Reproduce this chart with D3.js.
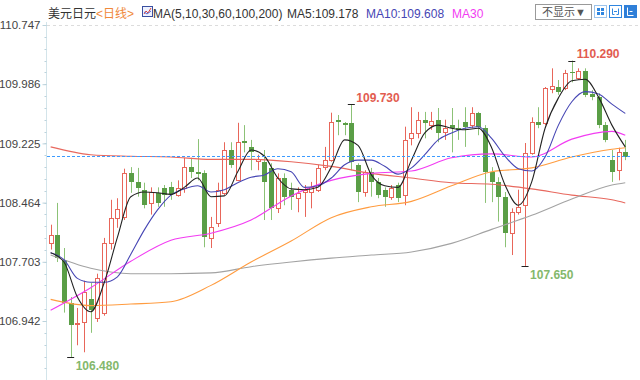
<!DOCTYPE html>
<html><head><meta charset="utf-8">
<script src="https://cdn.jsdelivr.net/npm/d3@7"></script>
<style>
html,body{margin:0;padding:0;background:#fff;}
svg{display:block;}
</style></head><body>
<svg id="c" width="640" height="380"></svg>
<script>
// ---- candle data (index 0..86) ----
const opens  = [107.95,108.05,107.73,107.17,106.90,106.93,107.22,106.98,107.05,107.95,108.27,108.28,108.84,108.73,108.63,108.46,108.59,108.65,108.66,108.56,108.65,108.92,108.86,108.84,108.01,108.20,108.59,109.14,108.76,109.26,109.18,109.00,108.99,108.91,108.39,108.78,108.63,108.52,108.60,108.60,108.63,108.92,109.01,109.53,109.49,109.49,108.95,108.60,108.86,108.73,108.63,108.54,108.69,108.56,109.29,109.36,109.53,109.46,109.53,109.37,109.46,109.42,109.50,109.46,109.62,109.42,108.86,108.73,108.54,108.07,108.34,108.43,109.10,109.50,109.49,109.92,109.95,109.94,110.14,110.07,110.16,109.86,109.82,109.46,109.01,108.88,109.11];
const highs  = [108.18,108.46,107.88,107.25,107.11,107.46,107.43,107.55,108.01,108.50,108.52,108.90,108.92,108.91,108.72,108.66,108.66,108.69,108.73,108.75,109.04,109.04,109.28,108.88,108.28,108.72,109.24,109.24,109.49,109.46,109.27,109.08,109.14,108.97,108.84,108.84,108.72,108.66,108.69,108.73,108.95,109.18,109.62,109.59,109.50,109.73,108.97,108.88,108.91,108.78,108.66,108.69,108.72,109.44,109.69,109.63,109.63,109.63,109.68,109.53,109.68,109.53,109.69,109.69,109.63,109.46,108.92,108.79,108.60,108.39,108.63,109.23,109.56,109.69,109.95,110.19,110.04,110.17,110.29,110.19,110.19,109.91,109.87,109.50,109.14,109.17,109.27];
const lows   = [107.86,107.70,107.05,106.48,106.63,106.54,106.79,106.93,107.01,107.86,108.14,108.24,108.59,108.54,108.39,108.31,108.41,108.41,108.50,108.54,108.59,108.78,108.75,107.89,107.88,108.15,108.56,108.91,108.74,109.11,108.88,108.88,108.24,108.24,108.33,108.43,108.37,108.34,108.28,108.39,108.60,108.88,108.99,109.33,109.33,108.88,108.47,108.54,108.54,108.52,108.41,108.50,108.47,108.43,109.20,109.29,109.29,109.40,109.24,109.27,109.11,109.27,109.18,109.42,109.33,108.46,108.47,108.22,107.89,107.79,108.31,107.65,109.08,109.42,109.46,109.87,109.85,109.91,110.01,110.04,109.82,109.78,109.42,109.24,108.73,108.75,109.01];
const closes = [108.05,107.75,107.17,106.89,106.92,107.32,107.08,107.50,107.95,108.27,108.38,108.84,108.73,108.65,108.43,108.60,108.46,108.56,108.57,108.65,108.92,108.86,108.83,108.02,108.15,108.63,109.14,108.95,109.24,109.23,109.11,109.02,108.73,108.39,108.78,108.54,108.54,108.59,108.63,108.66,108.91,109.01,109.50,109.50,109.46,108.99,108.60,108.86,108.73,108.56,108.54,108.65,108.52,109.27,109.36,109.53,109.49,109.51,109.36,109.42,109.42,109.40,109.44,109.62,109.44,108.86,108.73,108.54,108.07,108.34,108.41,109.10,109.50,109.46,109.94,109.96,109.89,110.13,110.13,110.16,109.85,109.82,109.46,109.27,108.86,109.11,109.05];

// ---- moving averages ----
const shortIdx = d3.range(0, 87, 2);           // candle index of each MA5 / MA10 reading
const ma5  = [107.82,107.70,107.25,107.06,107.43,108.02,108.54,108.60,108.59,108.57,108.66,108.78,108.54,108.55,108.86,109.14,109.06,108.78,108.64,108.63,108.66,108.92,109.27,109.20,108.82,108.68,108.66,109.01,109.36,109.46,109.42,109.40,109.42,109.17,108.69,108.43,108.73,109.42,109.81,110.03,110.05,109.82,109.46,109.18];
const ma10 = [107.82,107.73,107.49,107.44,107.44,107.51,107.80,108.11,108.37,108.56,108.64,108.68,108.60,108.63,108.72,108.79,108.82,108.90,108.86,108.66,108.68,108.78,108.95,109.01,109.01,108.93,108.83,108.91,109.08,109.27,109.36,109.42,109.44,109.29,109.06,108.90,108.87,109.05,109.46,109.76,109.89,109.86,109.73,109.61];
const longIdx = [0,6,12,18,24,30,36,42,48,54,60,66,72,78,84,86];
const ma30  = [107.08,107.37,107.71,107.98,108.07,108.24,108.55,108.75,108.84,108.87,109.04,109.09,109.05,109.28,109.38,109.33];
const ma60  = [107.22,107.14,107.16,107.19,107.40,107.70,107.97,108.27,108.41,108.48,108.68,108.86,108.91,109.05,109.15,109.17];
const ma100 = [107.79,107.62,107.55,107.55,107.56,107.64,107.70,107.75,107.79,107.83,107.94,108.12,108.30,108.51,108.69,108.72];
const ma200 = [109.18,109.08,109.06,109.05,109.02,109.02,108.99,108.93,108.84,108.78,108.72,108.70,108.64,108.56,108.50,108.46];

const yTicks = [106.942,107.703,108.464,109.225,109.986,110.747];
const lastPrice = 109.06;
const extremes = [
  {i:45, v:109.730, kind:"high"},
  {i:78, v:110.290, kind:"high"},
  {i:3,  v:106.480, kind:"low"},
  {i:71, v:107.650, kind:"low"}
];

const UP = "#e8665a", DOWN = "#5a9e46", DOWNWICK = "#8cc276";
const svg = d3.select("#c");
const font = "'Liberation Sans', Arial, 'Noto Sans CJK SC', sans-serif";

const x = d3.scaleBand().domain(d3.range(opens.length)).range([47.3, 628.6])
  .paddingInner(0.25).paddingOuter(0.125);
const cx = i => x(i) + x.bandwidth() / 2;
const y = d3.scaleLinear().domain([106.942, 110.747]).range([321, 25]);

// top dashed border
svg.append("line").attr("x1", 47).attr("x2", 640).attr("y1", 25.5).attr("y2", 25.5)
  .attr("stroke", "#dcdcdc").attr("stroke-dasharray", "3,3");

// y axis
const axisX = 46.5;
svg.append("line").attr("x1", axisX).attr("x2", axisX).attr("y1", 22).attr("y2", 380)
  .attr("stroke", "#d3e4ea");
const step = (yTicks[1] - yTicks[0]) / 5;
const minor = [];
for (let v = yTicks[0] - 5 * step; v <= yTicks[yTicks.length - 1] + 1e-6; v += step) minor.push(v);
svg.append("g").selectAll("line").data(minor).join("line")
  .attr("x1", axisX - 2).attr("x2", axisX)
  .attr("y1", d => Math.round(y(d)) + 0.5).attr("y2", d => Math.round(y(d)) + 0.5)
  .attr("stroke", "#bcd3dc");
const yAxis = d3.axisLeft(y).tickValues(yTicks).tickFormat(d3.format(".3f")).tickSize(4).tickPadding(2);
const ga = svg.append("g").attr("transform", `translate(${axisX},0)`).call(yAxis);
ga.select(".domain").remove();
ga.selectAll(".tick line").attr("stroke", "#bcd3dc");
ga.selectAll(".tick text").attr("fill", "#444").style("font-family", font).style("font-size", "11.5px");

// candles
const g = svg.append("g");
const data = d3.range(opens.length).map(i => ({i, o: opens[i], h: highs[i], l: lows[i], c: closes[i]}));
data.forEach(d => {
  const up = d.c >= d.o;
  const xc = Math.round(cx(d.i)) + 0.5;
  g.append("line").attr("x1", xc).attr("x2", xc)
    .attr("y1", y(d.h)).attr("y2", y(d.l))
    .attr("stroke", up ? UP : DOWNWICK).attr("stroke-width", 1);
  const top = y(Math.max(d.o, d.c)), bot = y(Math.min(d.o, d.c));
  const left = Math.round(cx(d.i)) - 2;
  if (up) {
    g.append("rect").attr("x", left + 0.5).attr("y", Math.round(top) + 0.5)
      .attr("width", 4).attr("height", Math.max(1, Math.round(bot) - Math.round(top)))
      .attr("fill", "#fff").attr("stroke", UP);
  } else {
    g.append("rect").attr("x", left).attr("y", Math.round(top))
      .attr("width", 5).attr("height", Math.max(1, Math.round(bot) - Math.round(top)))
      .attr("fill", DOWN);
  }
});

// MA lines
const lineGen = d3.line().x(d => cx(d[0])).y(d => y(d[1])).curve(d3.curveMonotoneX);
const mas = [
  {idx: longIdx, vals: ma200, color: "#e8685e"},
  {idx: longIdx, vals: ma100, color: "#a3a3a3"},
  {idx: longIdx, vals: ma60,  color: "#ff9c40"},
  {idx: longIdx, vals: ma30,  color: "#f23cf2"},
  {idx: shortIdx, vals: ma10, color: "#4646b4"},
  {idx: shortIdx, vals: ma5,  color: "#222"}
];
mas.forEach(m => {
  svg.append("path").attr("d", lineGen(m.idx.map((k, j) => [k, m.vals[j]])))
    .attr("fill", "none").attr("stroke", m.color).attr("stroke-width", 1.1);
});

// last price dashed line
svg.append("line").attr("x1", 47).attr("x2", 632)
  .attr("y1", Math.round(y(lastPrice)) + 0.5).attr("y2", Math.round(y(lastPrice)) + 0.5)
  .attr("stroke", "#3d9bff").attr("stroke-dasharray", "3,2");

// extremes
extremes.forEach(e => {
  const xc = cx(e.i), yy = y(e.v);
  svg.append("line").attr("x1", xc - 3.5).attr("x2", xc + 3.5).attr("y1", Math.round(yy) + 0.5).attr("y2", Math.round(yy) + 0.5)
    .attr("stroke", "#222");
  svg.append("text").attr("x", xc + 5).attr("y", e.kind === "high" ? yy - 2.5 : yy + 13)
    .attr("fill", e.kind === "high" ? "#e25c50" : "#84b86c")
    .style("font-family", font).style("font-size", "12px").style("font-weight", "bold")
    .text(e.v.toFixed(3));
});

// header
const hdr = (tx, xx, col, size) => svg.append("text").attr("x", xx).attr("y", 18).attr("fill", col)
  .style("font-family", font).style("font-size", (size || 12) + "px").text(tx);
hdr("美元日元", 48, "#333");
hdr("<日线>", 96, "#f0883a");
// small icon
svg.append("rect").attr("x", 142.5).attr("y", 6.5).attr("width", 10).attr("height", 10)
  .attr("fill", "#eef2ff").attr("stroke", "#3a4fa0");
svg.append("polyline").attr("points", "144,14 146,11 148,13 151,8").attr("fill", "none").attr("stroke", "#e0443c");
svg.append("polyline").attr("points", "144,12 147,14 151,11").attr("fill", "none").attr("stroke", "#5a6ad0");
hdr("MA(5,10,30,60,100,200)", 153, "#333");
hdr("MA5:109.178", 287, "#333");
hdr("MA10:109.608", 366, "#4646b4");
hdr("MA30", 452, "#f23cf2");

// right controls
svg.append("rect").attr("x", 535.5).attr("y", 4.5).attr("width", 56).attr("height", 15)
  .attr("fill", "#fff").attr("stroke", "#9a9a9a");
svg.append("text").attr("x", 542).attr("y", 16).attr("fill", "#555")
  .style("font-family", font).style("font-size", "11px").text("不显示▼");
// icon 1
svg.append("rect").attr("x", 594.5).attr("y", 5.5).attr("width", 12).attr("height", 12).attr("fill", "#fff").attr("stroke", "#9cc4ec");
[[597,8],[601,8],[597,12],[601,12]].forEach(p => svg.append("rect").attr("x", p[0]).attr("y", p[1]).attr("width", 3).attr("height", 3).attr("fill", "#2f86e0"));
// icon 2
svg.append("rect").attr("x", 609.5).attr("y", 5.5).attr("width", 12).attr("height", 12).attr("fill", "#fff").attr("stroke", "#2f86e0");
svg.append("path").attr("d", "M612.5,8.5v6h2 M618.5,8.5v6h-2 M614,11.5h3").attr("fill", "none").attr("stroke", "#2f86e0");
// icon 3
svg.append("rect").attr("x", 624).attr("y", 5).attr("width", 13).attr("height", 13).attr("fill", "#2f7fd8");
svg.append("path").attr("d", "M627.5,7.5v8h6 M629.5,11.5h3").attr("fill", "none").attr("stroke", "#fff");
</script>
</body></html>
